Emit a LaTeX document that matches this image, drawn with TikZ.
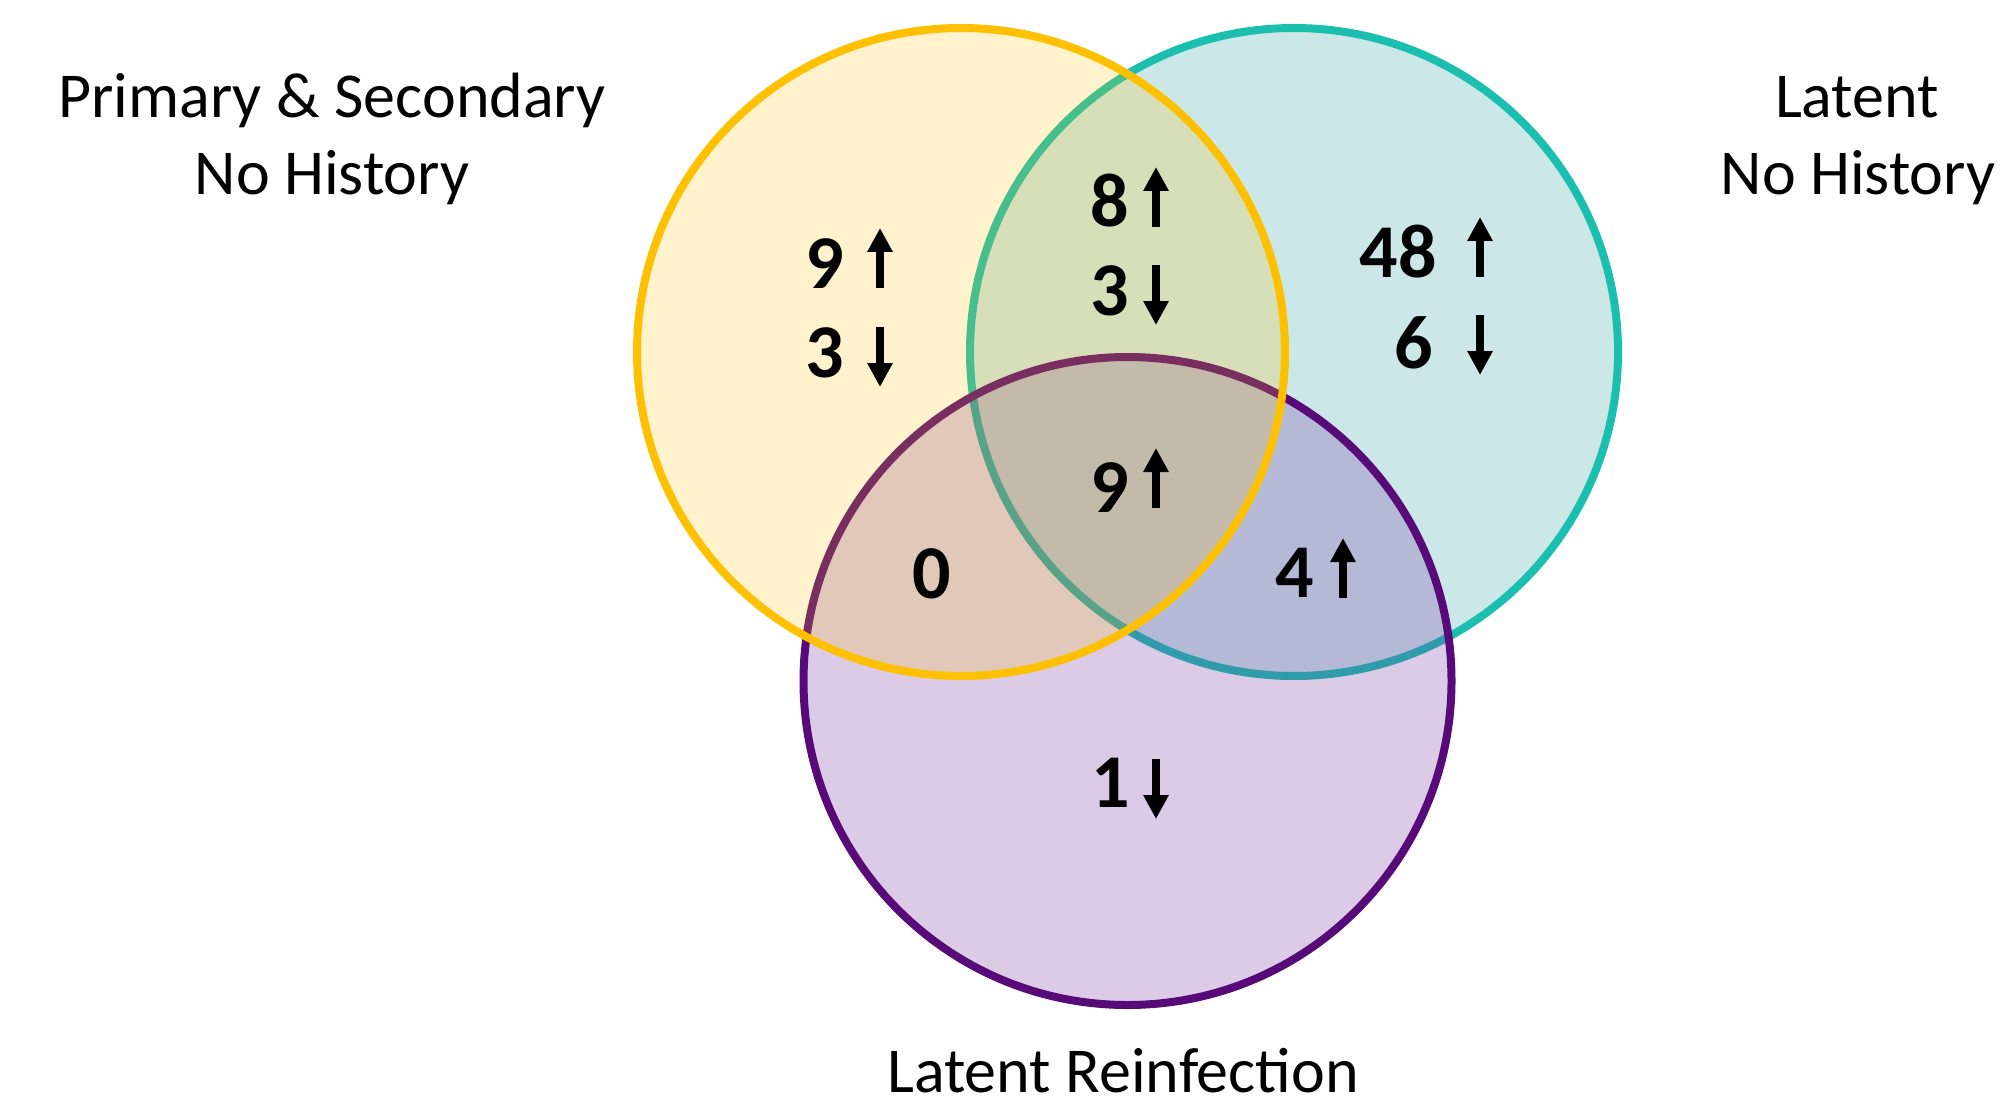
\documentclass[tikz,border=0pt]{standalone}
\usepackage{fontspec}
\setmainfont{Carlito}
\usetikzlibrary{arrows.meta}
\definecolor{yelS}{HTML}{FFC000}
\definecolor{tealS}{HTML}{1ABFB0}
\definecolor{tealF}{HTML}{008B8B}
\definecolor{purS}{HTML}{580A78}
\definecolor{purF}{HTML}{7030A0}
\begin{document}
\begin{tikzpicture}[x=0.5pt,y=-0.5pt,
  venn/.style={circle, inner sep=0pt, minimum size=324pt, line width=4pt, draw opacity=1},
  lab/.style={anchor=base, inner sep=0pt, font=\fontsize{32}{38}\selectfont},
  num/.style={anchor=base, inner sep=0pt, font=\fontsize{38}{44}\selectfont\bfseries},
  dirarrow/.style={line width=4pt, -{Triangle[width=12pt,length=12pt]}}]
\useasboundingbox[fill=white] (0,0) rectangle (2001,1107);
% circles (drawing order: teal, purple, yellow)
\node[venn, draw=tealS, fill=tealF, fill opacity=0.2] (T) at (1294,352) {};
\node[venn, draw=purS, fill=purF, fill opacity=0.25] (P) at (1127.5,681) {};
\node[venn, draw=yelS, fill=yelS, fill opacity=0.2] (Y) at (961,352) {};
% set labels
\node[lab] (ly1) at (332,118) {Primary \& Secondary};
\node[lab] (ly2) at (332,195) {No History};
\node[lab] (lt1) at (1857,118) {Latent};
\node[lab] (lt2) at (1858,195) {No History};
\node[lab] (lp) at (1123,1092) {Latent Reinfection};
% region counts
\node[num] (n1) at (825,288) {9};
\node[num] (n2) at (825,377) {3};
\node[num] (n3) at (1110,227) {8};
\node[num] (n4) at (1110,315) {3};
\node[num] (n5) at (1398,278) {48};
\node[num] (n6) at (1414,368) {6};
\node[num] (n7) at (1110,512) {9};
\node[num] (n8) at (932,598) {0};
\node[num] (n9) at (1295,597) {4};
\node[num] (n10) at (1111,807) {1};
% direction arrows
\draw[dirarrow] (880,288) -- (880,228);
\draw[dirarrow] (880,327) -- (880,387);
\draw[dirarrow] (1156,227) -- (1156,167);
\draw[dirarrow] (1156,265) -- (1156,325);
\draw[dirarrow] (1480,277) -- (1480,217);
\draw[dirarrow] (1480,315) -- (1480,375);
\draw[dirarrow] (1156,508) -- (1156,448);
\draw[dirarrow] (1343,598) -- (1343,538);
\draw[dirarrow] (1156,759) -- (1156,819);
\end{tikzpicture}
\end{document}
